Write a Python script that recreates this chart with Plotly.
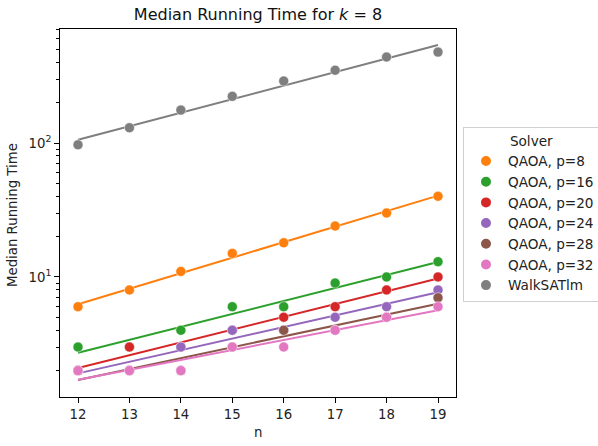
import numpy as np
import plotly.graph_objects as go

n = [12, 13, 14, 15, 16, 17, 18, 19]
solvers = ["QAOA, p=8", "QAOA, p=16", "QAOA, p=20", "QAOA, p=24",
           "QAOA, p=28", "QAOA, p=32", "WalkSATlm"]
qaoa_p8 = [6, 8, 11, 15, 18, 24, 30, 40]
qaoa_p16 = [3, 3, 4, 6, 6, 9, 10, 13]
qaoa_p20 = [2, 3, 3, 4, 5, 6, 8, 10]
qaoa_p24 = [2, 2, 3, 4, 4, 5, 6, 8]
qaoa_p28 = [2, 2, 2, 3, 4, 4, 5, 7]
qaoa_p32 = [2, 2, 2, 3, 3, 4, 5, 6]
walksat = [97, 130, 176, 223, 290, 349, 438, 477]
colors = ["#ff7f0e", "#2ca02c", "#d62728", "#9467bd", "#8c564b", "#e377c2", "#7f7f7f"]
series = [qaoa_p8, qaoa_p16, qaoa_p20, qaoa_p24, qaoa_p28, qaoa_p32, walksat]

y_major = [10, 100]
y_major_text = ["10<sup>1</sup>", "10<sup>2</sup>"]
y_minor = [2, 3, 4, 5, 6, 7, 8, 9, 20, 30, 40, 50, 60, 70, 80, 90,
           200, 300, 400, 500, 600, 700]

FONT = "DejaVu Sans"
FS = 13.3
fig = go.Figure()

xs = np.array(n, dtype=float)
for name, vals, col in zip(solvers, series, colors):
    coef = np.polyfit(xs, np.log10(np.array(vals, dtype=float)), 1)
    fit = 10 ** np.polyval(coef, xs)
    fig.add_trace(go.Scatter(x=n, y=fit, mode="lines", line=dict(color=col, width=2),
                             showlegend=False, hoverinfo="skip"))
    fig.add_trace(go.Scatter(x=n, y=vals, mode="markers", name=name,
                             marker=dict(color=col, size=10,
                                         line=dict(color="white", width=0.5))))

fig.update_layout(
    width=598, height=446,
    margin=dict(l=60, r=142, t=29, b=49, autoexpand=False),
    paper_bgcolor="white", plot_bgcolor="white",
    font=dict(family=FONT, size=FS, color="#222222"),
    title=dict(text="Median Running Time for <i>k</i> = 8", x=0.5, xref="paper",
               y=1 - 14 / 446, yref="container", yanchor="middle", xanchor="center",
               font=dict(family=FONT, size=16, color="#111111")),
    legend=dict(x=463 / 598, xanchor="left", y=1 - 127 / 446, yanchor="top",
                xref="container", yref="container",
                bgcolor="white", bordercolor="#d0d0d0", borderwidth=1,
                font=dict(family=FONT, size=13.6, color="#222222"),
                title=dict(text="Solver", side="top center",
                           font=dict(family=FONT, size=13.6)),
                itemsizing="constant", itemwidth=34),
    annotations=[
        dict(text="n", x=0.5, y=0, xref="paper", yref="paper", showarrow=False,
             xanchor="center", yanchor="middle", yshift=-35.5,
             font=dict(family=FONT, size=FS, color="#222222")),
        dict(text="Median Running Time", x=0, y=0.5, xref="paper", yref="paper",
             showarrow=False, textangle=-90, xanchor="center", yanchor="middle",
             xshift=-48, yshift=-2,
             font=dict(family=FONT, size=FS, color="#222222")),
    ],
)
fig.update_xaxes(
    range=[11.65, 19.35], tickvals=n, ticks="outside", ticklen=5, tickwidth=1,
    tickcolor="black", showline=True, linecolor="black", linewidth=1, mirror=True,
    showgrid=False, zeroline=False, automargin=False,
    tickfont=dict(family=FONT, size=FS, color="#222222"),
)
fig.update_yaxes(
    type="log", range=[0.104, 2.851], tickvals=y_major, ticktext=y_major_text,
    ticks="outside", ticklen=5, tickwidth=1, tickcolor="black",
    minor=dict(tickvals=y_minor, ticks="outside", ticklen=3, tickwidth=0.8,
               tickcolor="black", showgrid=False),
    showline=True, linecolor="black", linewidth=1, mirror=True,
    showgrid=False, zeroline=False, automargin=False,
    tickfont=dict(family=FONT, size=FS, color="#222222"),
)

fig.write_html("out.html", config={"displayModeBar": False},
               post_script="document.body.style.margin='0px';"
                           "document.body.style.overflow='hidden';")
